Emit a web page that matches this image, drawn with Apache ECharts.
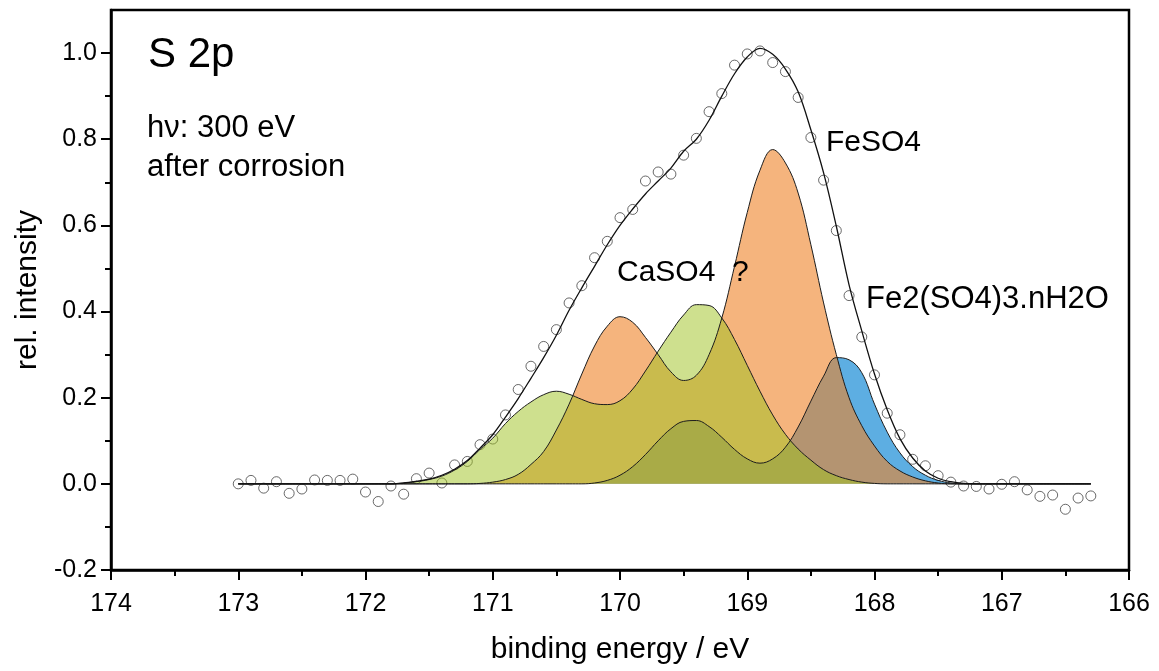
<!DOCTYPE html>
<html>
<head>
<meta charset="utf-8">
<script src="https://cdn.jsdelivr.net/npm/echarts@6/dist/echarts.min.js"></script>
<style>
  html, body { margin: 0; padding: 0; background: #ffffff; }
  #chart { width: 1159px; height: 671px; }
</style>
</head>
<body>
<div id="chart"></div>
<script>
// S 2p spectrum, 0.1 eV steps from 173.0 eV down to 166.3 eV
const bindingEnergy = [
  173.0, 172.9, 172.8, 172.7, 172.6, 172.5, 172.4, 172.3, 172.2, 172.1,
  172.0, 171.9, 171.8, 171.7, 171.6, 171.5, 171.4, 171.3, 171.2, 171.1,
  171.0, 170.9, 170.8, 170.7, 170.6, 170.5, 170.4, 170.3, 170.2, 170.1,
  170.0, 169.9, 169.8, 169.7, 169.6, 169.5, 169.4, 169.3, 169.2, 169.1,
  169.0, 168.9, 168.8, 168.7, 168.6, 168.5, 168.4, 168.3, 168.2, 168.1,
  168.0, 167.9, 167.8, 167.7, 167.6, 167.5, 167.4, 167.3, 167.2, 167.1,
  167.0, 166.9, 166.8, 166.7, 166.6, 166.5, 166.4, 166.3
];

// measured intensity (open circles)
const measured = [
  0.000, 0.008, -0.010, 0.005, -0.022, -0.012, 0.009, 0.008, 0.008, 0.011,
  -0.019, -0.041, -0.005, -0.024, 0.012, 0.025, 0.002, 0.044, 0.052, 0.091,
  0.104, 0.160, 0.219, 0.273, 0.319, 0.358, 0.420, 0.460, 0.525, 0.563,
  0.618, 0.637, 0.703, 0.724, 0.719, 0.763, 0.802, 0.864, 0.906, 0.972,
  0.998, 1.005, 0.978, 0.957, 0.897, 0.804, 0.705, 0.588, 0.437, 0.341,
  0.253, 0.164, 0.114, 0.057, 0.042, 0.019, 0.004, -0.005, -0.006, -0.012,
  -0.001, 0.005, -0.014, -0.029, -0.026, -0.059, -0.033, -0.028
];

// fit envelope
const envelope = [
  0, 0, 0, 0, 0, 0, 0, 0, 0, 0,
  0, 0, 0, 0.002, 0.006, 0.011, 0.020, 0.034, 0.054, 0.083,
  0.114, 0.155, 0.198, 0.245, 0.293, 0.345, 0.403, 0.455, 0.505, 0.555,
  0.600, 0.638, 0.673, 0.703, 0.733, 0.772, 0.800, 0.844, 0.900, 0.952,
  0.991, 1.011, 0.997, 0.963, 0.910, 0.822, 0.722, 0.598, 0.462, 0.355,
  0.255, 0.172, 0.105, 0.060, 0.030, 0.013, 0.005, 0.001, 0, 0,
  0, 0, 0, 0, 0, 0, 0, 0
];

// fitted components
const caso4 = [
  0, 0, 0, 0, 0, 0, 0, 0, 0, 0,
  0, 0, 0, 0.002, 0.005, 0.010, 0.018, 0.032, 0.052, 0.080,
  0.106, 0.140, 0.168, 0.190, 0.207, 0.215, 0.208, 0.196, 0.186, 0.184,
  0.193, 0.220, 0.262, 0.308, 0.352, 0.392, 0.416, 0.414, 0.385, 0.335,
  0.275, 0.215, 0.160, 0.115, 0.081, 0.055, 0.033, 0.019, 0.010, 0.004,
  0.001, 0, 0, 0, 0, 0, 0, 0, 0, 0,
  0, 0, 0, 0, 0, 0, 0, 0
];

const feso4 = [
  0, 0, 0, 0, 0, 0, 0, 0, 0, 0,
  0, 0, 0, 0, 0, 0, 0, 0, 0, 0.001,
  0.004, 0.010, 0.022, 0.045, 0.075, 0.125, 0.185, 0.255, 0.320, 0.366,
  0.388, 0.375, 0.340, 0.300, 0.260, 0.240, 0.252, 0.300, 0.385, 0.505,
  0.630, 0.728, 0.776, 0.745, 0.675, 0.555, 0.420, 0.300, 0.200, 0.135,
  0.088, 0.052, 0.030, 0.016, 0.007, 0.002, 0, 0, 0, 0,
  0, 0, 0, 0, 0, 0, 0, 0
];

const fe2so43 = [
  0, 0, 0, 0, 0, 0, 0, 0, 0, 0,
  0, 0, 0, 0, 0, 0, 0, 0, 0, 0,
  0, 0, 0, 0, 0, 0, 0, 0, 0.002, 0.008,
  0.020, 0.040, 0.068, 0.100, 0.128, 0.145, 0.147, 0.133, 0.108, 0.080,
  0.058, 0.048, 0.058, 0.085, 0.132, 0.192, 0.250, 0.293, 0.288, 0.258,
  0.185, 0.120, 0.072, 0.040, 0.020, 0.008, 0.002, 0, 0, 0,
  0, 0, 0, 0, 0, 0, 0, 0
];

const xTicks = [174, 173, 172, 171, 170, 169, 168, 167, 166];
const yTicks = [-0.2, 0.0, 0.2, 0.4, 0.6, 0.8, 1.0];

const FONT = '"Liberation Sans", Arial, Helvetica, sans-serif';

const pairs = vals => bindingEnergy.map((e, i) => [e, vals[i]]);

function component(name, vals, color, opacity) {
  return {
    type: 'line',
    name: name,
    data: pairs(vals),
    smooth: 0.4,
    symbol: 'none',
    silent: true,
    lineStyle: { color: '#1c1c1c', width: 1 },
    areaStyle: { color: color, opacity: opacity, origin: 0 }
  };
}

function note(text, x, y, size) {
  return {
    type: 'text', x: x, y: y, z: 100, silent: true,
    style: { text: text, font: size + 'px ' + FONT, fill: '#000', verticalAlign: 'middle' }
  };
}

const chart = echarts.init(document.getElementById('chart'));

chart.setOption({
  animation: false,
  backgroundColor: '#ffffff',
  grid: {
    left: 111, right: 30, top: 10, bottom: 101,
    show: true, borderColor: '#000', borderWidth: 2.5,
    backgroundColor: 'transparent'
  },
  xAxis: {
    type: 'value',
    min: 166, max: 174, interval: 1,
    inverse: true,
    axisLine: { show: true, onZero: false, lineStyle: { color: '#000', width: 2.5 } },
    axisTick: { show: true, inside: false, length: 10, lineStyle: { color: '#000', width: 2 } },
    minorTick: { show: true, splitNumber: 2, length: 6, lineStyle: { color: '#000', width: 2 } },
    splitLine: { show: false },
    minorSplitLine: { show: false },
    axisLabel: {
      customValues: xTicks,
      color: '#000', fontSize: 25, fontFamily: FONT, margin: 22,
      formatter: v => String(v)
    },
    name: 'binding energy / eV',
    nameLocation: 'middle',
    nameGap: 65,
    nameTextStyle: { color: '#000', fontSize: 30, fontFamily: FONT }
  },
  yAxis: {
    type: 'value',
    min: -0.2, max: 1.1, interval: 0.2,
    axisLine: { show: true, onZero: false, lineStyle: { color: '#000', width: 2.5 } },
    axisTick: { show: true, inside: false, length: 10, customValues: yTicks, lineStyle: { color: '#000', width: 2 } },
    minorTick: { show: true, splitNumber: 2, length: 6, lineStyle: { color: '#000', width: 2 } },
    splitLine: { show: false },
    minorSplitLine: { show: false },
    axisLabel: {
      customValues: yTicks,
      color: '#000', fontSize: 25, fontFamily: FONT, margin: 14,
      formatter: v => v.toFixed(1)
    },
    name: 'rel. intensity',
    nameLocation: 'middle',
    nameRotate: 90,
    nameGap: 64,
    nameTextStyle: { color: '#000', fontSize: 30, fontFamily: FONT }
  },
  series: [
    component('Fe2(SO4)3.nH2O', fe2so43, 'rgb(39,147,216)', 0.75),
    component('FeSO4', feso4, 'rgb(238,130,38)', 0.6),
    component('CaSO4', caso4, 'rgb(157,193,29)', 0.5),
    {
      type: 'line',
      name: 'fit',
      data: pairs(envelope),
      smooth: 0.35,
      symbol: 'none',
      silent: true,
      lineStyle: { color: '#111', width: 1.3 }
    },
    {
      type: 'scatter',
      name: 'measured',
      data: pairs(measured),
      symbol: 'circle',
      symbolSize: 10,
      silent: true,
      itemStyle: { color: 'rgba(255,255,255,0)', borderColor: '#444', borderWidth: 1 }
    }
  ],
  graphic: [
    note('S 2p', 148, 55, 42),
    note('h\u03BD: 300 eV', 147, 128, 31),
    note('after corrosion', 147, 167, 31),
    note('FeSO4', 826, 143, 30),
    note('CaSO4  ?', 617, 273, 30),
    note('Fe2(SO4)3.nH2O', 866, 299, 31)
  ]
});
</script>
</body>
</html>
